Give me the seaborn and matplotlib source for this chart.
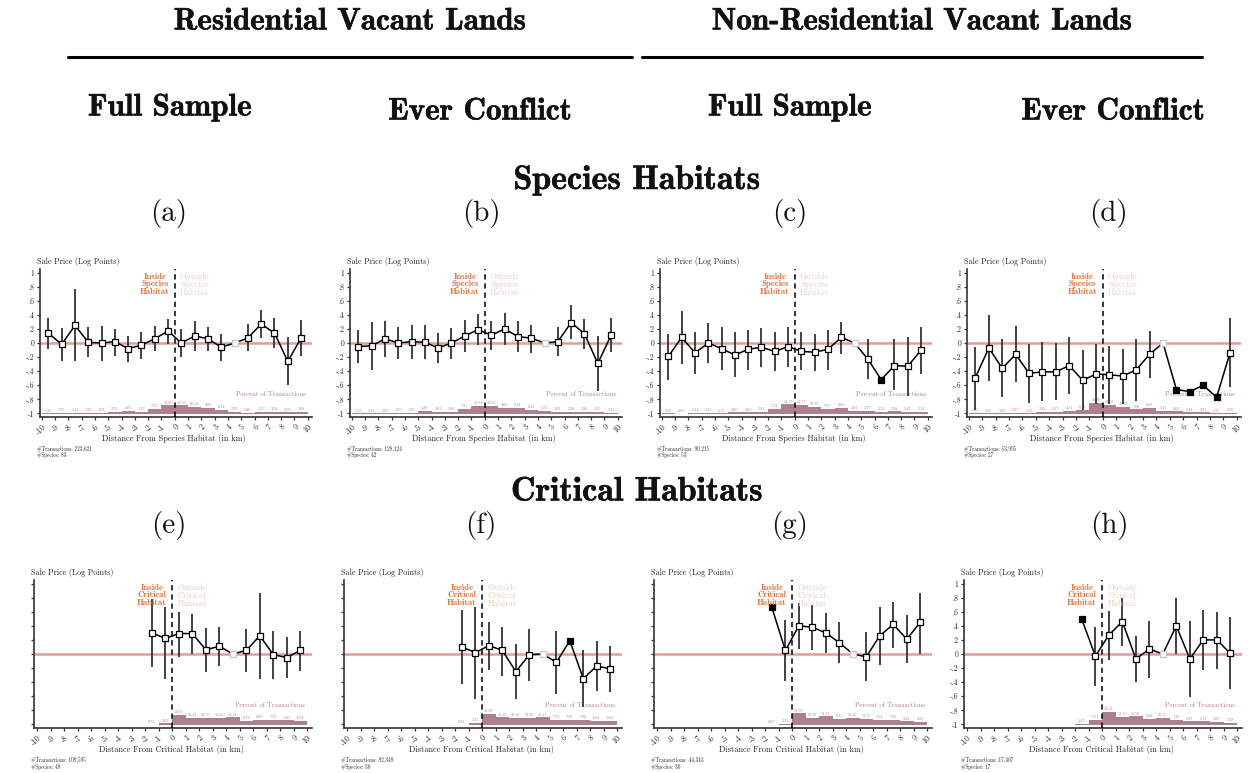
import numpy as np
import pandas as pd
import matplotlib
matplotlib.use("Agg")
import matplotlib.pyplot as plt
import matplotlib.patheffects as pe
import seaborn as sns

# ---------------- data ----------------
top_x = [-9.5, -8.5, -7.5, -6.5, -5.5, -4.5, -3.5, -2.5, -1.5, -0.5,
         0.5, 1.5, 2.5, 3.5, 4.5, 5.5, 6.5, 7.5, 8.5, 9.5]
bot_x = [-1.5, -0.5, 0.5, 1.5, 2.5, 3.5, 4.5, 5.5, 6.5, 7.5, 8.5, 9.5]
ref_x = 4.5
nan = float("nan")

a_coef = [0.14, -0.02, 0.25, 0.01, 0.00, 0.02, -0.08, -0.03, 0.06, 0.17,
          0.00, 0.10, 0.06, -0.06, 0.0, 0.07, 0.27, 0.14, -0.26, 0.07]
a_hi = [0.36, 0.21, 0.76, 0.22, 0.24, 0.20, 0.10, 0.15, 0.24, 0.34,
        0.20, 0.31, 0.22, 0.13, nan, 0.27, 0.47, 0.35, 0.09, 0.32]
a_lo = [-0.09, -0.25, -0.26, -0.20, -0.26, -0.18, -0.27, -0.22, -0.12, -0.01,
        -0.20, -0.11, -0.11, -0.25, nan, -0.12, 0.07, -0.07, -0.60, -0.19]
a_pct = [1.25, 1.70, 1.42, 1.82, 1.92, 3.79, 4.67, 3.22, 7.29, 12.60,
         12.59, 10.14, 9.08, 6.14, 3.29, 2.40, 3.27, 2.94, 2.70, 3.08]

b_coef = [-0.05, -0.04, 0.06, 0.00, 0.02, 0.01, -0.07, 0.00, 0.10, 0.19,
          0.11, 0.20, 0.09, 0.07, 0.0, 0.02, 0.29, 0.13, -0.29, 0.11]
b_hi = [0.18, 0.30, 0.31, 0.23, 0.26, 0.25, 0.14, 0.21, 0.33, 0.41,
        0.31, 0.42, 0.31, 0.26, nan, 0.22, 0.54, 0.34, 0.10, 0.35]
b_lo = [-0.28, -0.38, -0.20, -0.23, -0.23, -0.22, -0.29, -0.23, -0.13, -0.03,
        -0.10, -0.03, -0.13, -0.14, nan, -0.19, 0.05, -0.08, -0.68, -0.13]
b_pct = [1.25, 1.24, 1.03, 1.89, 1.99, 4.30, 3.61, 3.80, 7.87, 11.84,
         12.02, 9.60, 9.14, 6.42, 5.21, 2.92, 3.26, 2.96, 3.29, 2.12]

c_coef = [-0.19, 0.08, -0.14, 0.00, -0.08, -0.17, -0.09, -0.06, -0.12, -0.05,
          -0.12, -0.13, -0.09, 0.08, 0.0, -0.23, -0.52, -0.32, -0.33, -0.10]
c_hi = [0.13, 0.45, 0.16, 0.28, 0.22, 0.15, 0.18, 0.21, 0.16, 0.23,
        0.16, 0.13, 0.19, 0.30, nan, 0.05, nan, 0.05, 0.08, 0.22]
c_lo = [-0.52, -0.30, -0.44, -0.29, -0.38, -0.48, -0.38, -0.34, -0.40, -0.34,
        -0.39, -0.40, -0.38, -0.15, nan, -0.51, nan, -0.67, -0.75, -0.44]
c_pct = [0.99, 0.89, 1.44, 1.81, 1.17, 2.60, 2.63, 3.81, 7.34, 14.17,
         13.77, 10.99, 7.67, 8.65, 4.92, 4.79, 3.22, 3.98, 3.47, 3.12]

d_coef = [-0.49, -0.07, -0.36, -0.16, -0.43, -0.41, -0.41, -0.32, -0.53, -0.44,
          -0.45, -0.47, -0.38, -0.16, 0.0, -0.66, -0.69, -0.60, -0.77, -0.14]
d_hi = [-0.05, 0.40, 0.05, 0.24, -0.02, 0.01, 0.00, 0.08, -0.10, -0.02,
        -0.04, -0.08, 0.05, 0.17, nan, nan, nan, nan, nan, 0.35]
d_lo = [-0.95, -0.54, -0.76, -0.56, -0.85, -0.82, -0.81, -0.73, -0.95, -0.86,
        -0.86, -0.86, -0.82, -0.49, nan, nan, nan, nan, nan, -0.63]
d_pct = [1.42, 1.02, 1.09, 2.27, 1.21, 3.42, 3.17, 4.31, 6.49, 15.96,
         13.93, 10.59, 7.06, 8.96, 5.31, 4.03, 2.48, 2.52, 1.17, 2.30]

e_coef = [0.30, 0.22, 0.29, 0.29, 0.06, 0.11, 0.0, 0.05, 0.26, -0.01, -0.05, 0.05]
e_hi = [0.78, 0.67, 0.60, 0.57, 0.37, 0.39, nan, 0.36, 0.87, 0.33, 0.24, 0.33]
e_lo = [-0.18, -0.36, -0.04, 0.00, -0.26, -0.17, nan, -0.26, -0.36, -0.35, -0.34, -0.24]
e_pct = [0.72, 2.62, 14.64, 10.44, 10.79, 11.02, 11.41, 6.72, 8.02, 7.91, 7.16, 6.71]

f_coef = [0.10, 0.02, 0.12, 0.05, -0.25, -0.01, 0.0, -0.12, 0.19, -0.35, -0.17, -0.21]
f_hi = [0.62, 0.67, 0.46, 0.39, 0.14, 0.35, nan, 0.32, nan, 0.05, 0.18, 0.11]
f_lo = [-0.43, -0.64, -0.22, -0.31, -0.64, -0.38, nan, -0.57, nan, -0.75, -0.52, -0.54]
f_pct = [0.92, 3.22, 16.02, 11.20, 10.28, 10.93, 11.18, 7.70, 7.92, 7.96, 6.01, 6.30]

g_coef = [0.66, 0.05, 0.40, 0.38, 0.30, 0.16, 0.0, -0.04, 0.26, 0.42, 0.21, 0.45]
g_hi = [nan, 0.48, 0.73, 0.69, 0.58, 0.45, nan, 0.31, 0.67, 0.74, 0.55, 0.87]
g_lo = [nan, -0.38, 0.07, 0.05, 0.01, -0.13, nan, -0.39, -0.16, 0.09, -0.13, 0.00]
g_pct = [0.69, 2.32, 17.30, 10.92, 12.57, 9.11, 10.42, 8.72, 7.54, 7.90, 5.35, 4.89]

h_coef = [0.49, -0.03, 0.27, 0.46, -0.07, 0.07, 0.0, 0.40, -0.07, 0.20, 0.20, 0.01]
h_hi = [nan, 0.39, 0.61, 0.80, 0.25, 0.47, nan, 0.80, 0.47, 0.62, 0.60, 0.52]
h_lo = [nan, -0.46, -0.08, 0.11, -0.40, -0.34, nan, 0.00, -0.61, -0.22, -0.21, -0.49]
h_pct = [1.42, 7.54, 19.14, 12.35, 12.96, 9.46, 10.27, 7.49, 5.37, 5.73, 5.08, 3.28]

n_trans = ["223,621", "128,124", "90,215", "53,995", "109,595", "82,349", "44,313", "17,407"]
n_species = ["83", "42", "53", "27", "48", "30", "30", "17"]
panel_letters = ["(a)", "(b)", "(c)", "(d)", "(e)", "(f)", "(g)", "(h)"]

y_ticks = [-1, -0.8, -0.6, -0.4, -0.2, 0, 0.2, 0.4, 0.6, 0.8, 1]
y_ticklabels = ["-1", "-.8", "-.6", "-.4", "-.2", "0", ".2", ".4", ".6", ".8", "1"]
x_ticks = list(range(-10, 11))

# ---------------- style ----------------
sns.set_theme(style="ticks")
plt.rcParams["font.family"] = ["cmr10", "DejaVu Serif"]
plt.rcParams["axes.formatter.use_mathtext"] = True
plt.rcParams["axes.unicode_minus"] = False

W, H = 1248, 773
fig = plt.figure(figsize=(W / 100, H / 100), dpi=100)
fig.patch.set_facecolor("white")

BOLD = ["cmb10", "DejaVu Serif"]
INSIDE_C = "#d9703a"
OUTSIDE_C = "#e6cdc2"
BAR_C = "#b07f8e"
PCT_TXT = "#b07a8c"
ZERO_C = "#e39c9c"
EB_C = "#333333"
THICK = [pe.withStroke(linewidth=0.35, foreground="#111111")]


def ftext(x, y, s, **kw):
    return fig.text(x / W, 1 - y / H, s, **kw)


# headers
ftext(350, 22, "Residential Vacant Lands", ha="center", va="center", fontsize=22.5,
      family=BOLD, color="#111111", path_effects=THICK)
ftext(922, 22, "Non-Residential Vacant Lands", ha="center", va="center", fontsize=22.5,
      family=BOLD, color="#111111", path_effects=THICK)
fig.add_artist(plt.Line2D([68 / W, 632 / W], [1 - 57 / H, 1 - 57 / H], color="black", lw=2.2))
fig.add_artist(plt.Line2D([642 / W, 1202 / W], [1 - 57 / H, 1 - 57 / H], color="black", lw=2.2))
for cx, cy, s in [(170, 108, "Full Sample"), (480, 112, "Ever Conflict"),
                  (790, 108, "Full Sample"), (1113, 112, "Ever Conflict")]:
    ftext(cx, cy, s, ha="center", va="center", fontsize=22.5, family=BOLD,
          color="#111111", path_effects=THICK)
ftext(637, 180, "Species Habitats", ha="center", va="center", fontsize=24.5, family=BOLD,
      color="#111111", path_effects=THICK)
ftext(637, 492, "Critical Habitats", ha="center", va="center", fontsize=24.5, family=BOLD,
      color="#111111", path_effects=THICK)
letter_cx = [169, 481, 790, 1109]
for i, cx in enumerate(letter_cx):
    ftext(cx, 213, panel_letters[i], ha="center", va="center", fontsize=21, color="#111111")
    ftext(cx, 525, panel_letters[i + 4], ha="center", va="center", fontsize=21, color="#111111")

panels = [
    (top_x, a_coef, a_lo, a_hi, a_pct),
    (top_x, b_coef, b_lo, b_hi, b_pct),
    (top_x, c_coef, c_lo, c_hi, c_pct),
    (top_x, d_coef, d_lo, d_hi, d_pct),
    (bot_x, e_coef, e_lo, e_hi, e_pct),
    (bot_x, f_coef, f_lo, f_hi, f_pct),
    (bot_x, g_coef, g_lo, g_hi, g_pct),
    (bot_x, h_coef, h_lo, h_hi, h_pct),
]
# pixel boxes: left, top, right, bottom
boxes = [(40, 269, 312, 417), (350, 269, 622, 417), (660, 269, 932, 417), (967, 269, 1241, 417),
         (34, 580, 312, 728), (344, 580, 622, 728), (654, 580, 932, 728), (964, 580, 1242, 728)]

for k, ((xs, coef, lo, hi, pct), (l, t, r, b)) in enumerate(zip(panels, boxes)):
    ax = fig.add_axes([l / W, 1 - b / H, (r - l) / W, (b - t) / H])
    top_row = k < 4
    habitat = "Species" if top_row else "Critical"
    ax.set_xlim((-10.13, 10.32) if top_row else (-10.24, 10.37))
    ax.set_ylim(-1.05, 1.05)
    ax.set_facecolor("white")

    df = pd.DataFrame({"x": xs, "coef": coef, "lo": lo, "hi": hi, "pct": pct})
    # percent-of-transactions bars
    ax.bar(df["x"], df["pct"] * 0.0098, bottom=-1.01, width=1.0, color=BAR_C,
           edgecolor="none", zorder=1)
    for xv, pv in zip(df["x"], df["pct"]):
        ax.text(xv, -1.01 + pv * 0.0098 + 0.04, f"{pv:.2f}", ha="center", va="center",
                fontsize=3.0, color=PCT_TXT, zorder=2)
    ax.text(9.85, -0.72, "Percent of Transactions", ha="right", va="center",
            fontsize=4.8, color=PCT_TXT, zorder=2)

    ax.axhline(0, color=ZERO_C, lw=1.8, zorder=2)
    ax.axvline(0, color="black", lw=1.1, ls=(0, (3.5, 2.5)), zorder=3)

    # CIs
    ci = df.dropna(subset=["lo", "hi"])
    ax.vlines(ci["x"], ci["lo"], ci["hi"], color=EB_C, lw=1.3, zorder=4)
    # connecting line
    sns.lineplot(data=df, x="x", y="coef", ax=ax, color="black", lw=1.1,
                 sort=False, zorder=5, legend=False)
    # markers
    sig = df[df["lo"].isna() & (df["x"] != ref_x)]
    reg = df[df["lo"].notna()]
    ref = df[df["x"] == ref_x]
    sns.scatterplot(data=reg, x="x", y="coef", ax=ax, marker="s", s=17, color="white",
                    edgecolor="black", linewidth=0.9, zorder=6, legend=False)
    sns.scatterplot(data=sig, x="x", y="coef", ax=ax, marker="s", s=22, color="black",
                    edgecolor="black", linewidth=0.9, zorder=6, legend=False)
    sns.scatterplot(data=ref, x="x", y="coef", ax=ax, marker="s", s=17, color="white",
                    edgecolor="#c8c8c8", linewidth=0.9, zorder=6, legend=False)

    # inside / outside labels
    ax.text(-1.5, 1.0, f"Inside\n{habitat}\nHabitat", ha="center", va="top", fontsize=6.3,
            color=INSIDE_C, family=BOLD, linespacing=0.95, zorder=7)
    ax.text(1.5, 1.0, f"Outside\n{habitat}\nHabitat", ha="center", va="top", fontsize=6.3,
            color=OUTSIDE_C, linespacing=0.95, zorder=7)

    # axes styling
    sns.despine(ax=ax)
    for sp in ["left", "bottom"]:
        ax.spines[sp].set_color("#333333")
        ax.spines[sp].set_linewidth(1.2)
    ax.set_yticks(y_ticks)
    if top_row or k == 7:
        ax.set_yticklabels(y_ticklabels, fontsize=5.5)
    else:
        ax.set_yticklabels([])
    ax.set_xticks(x_ticks)
    ax.set_xticklabels([str(v) for v in x_ticks], fontsize=5.8, rotation=45,
                       ha="right", rotation_mode="anchor")
    ax.tick_params(axis="both", length=2.5, width=0.9, color="#333333", pad=1.5)
    ax.set_xlabel("")
    ax.set_ylabel("")
    ax.grid(False)

    cx = (l + r) / 2
    ftext(l - 3, t - 7.5, "Sale Price (Log Points)", ha="left", va="center", fontsize=5.8)
    ftext(cx - 2, b + 21.5, f"Distance From {habitat} Habitat (in km)", ha="center",
          va="center", fontsize=6.0)
    ftext(l - 3, b + 32, f"#Transactions: {n_trans[k]}", ha="left", va="center", fontsize=3.8)
    ftext(l - 3, b + 38.5, f"#Species: {n_species[k]}", ha="left", va="center", fontsize=3.8)

fig.savefig("out.png", dpi=100, facecolor="white")
